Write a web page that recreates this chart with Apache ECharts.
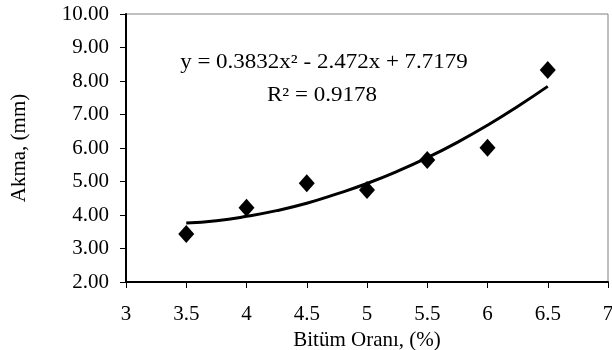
<!DOCTYPE html>
<html>
<head>
    <meta charset="UTF-8">
    <title>Akma - Bitüm Oranı</title>
    <script src="https://cdn.jsdelivr.net/npm/echarts@6/dist/echarts.min.js"></script>
    <style>
        html, body { margin: 0; padding: 0; background: #fff; }
        #chart { width: 612px; height: 350px; }
    </style>
</head>
<body>
    <div id="chart"></div>
    <script>
        // measured points (Bitüm Oranı %, Akma mm)
        var bitumRatio = [3.5, 4, 4.5, 5, 5.5, 6, 6.5];
        var akmaValues = [3.43, 4.22, 4.95, 4.75, 5.64, 6.01, 8.33];

        // trend line
        var trendX = [3.5, 3.75, 4, 4.25, 4.5, 4.75, 5, 5.25, 5.5, 5.75, 6, 6.25, 6.5];
        var trendY = [3.76, 3.83, 3.96, 4.13, 4.35, 4.63, 4.94, 5.30, 5.71, 6.17, 6.68, 7.24, 7.84];

        var xTicks = [3, 3.5, 4, 4.5, 5, 5.5, 6, 6.5, 7];
        var equationText = 'y = 0.3832x² - 2.472x + 7.7179';
        var rSquaredText = 'R² = 0.9178';

        var font = 'Liberation Serif';

        var chart = echarts.init(document.getElementById('chart'));

        var option = {
            animation: false,
            textStyle: { fontFamily: font, color: '#000' },
            grid: {
                left: 126, right: 4, top: 14, bottom: 68,
                outerBoundsMode: 'none',
                containLabel: false,
                show: true, borderColor: '#808080', borderWidth: 1
            },
            xAxis: {
                type: 'value',
                min: 3, max: 7, interval: 0.5,
                name: 'Bitüm Oranı, (%)',
                nameLocation: 'middle',
                nameGap: 37,
                nameTextStyle: { fontFamily: font, fontSize: 21, color: '#000' },
                axisLine: { lineStyle: { color: '#000', width: 2 } },
                axisTick: { show: true, length: 6, lineStyle: { color: '#000', width: 1 } },
                axisLabel: {
                    fontFamily: font, fontSize: 21, color: '#000', margin: 22,
                    formatter: function (v) { return xTicks.indexOf(v) >= 0 ? String(v) : ''; }
                },
                splitLine: { show: false }
            },
            yAxis: {
                type: 'value',
                min: 2, max: 10, interval: 1,
                name: 'Akma, (mm)',
                nameLocation: 'middle',
                nameGap: 96,
                nameTextStyle: { fontFamily: font, fontSize: 21, color: '#000' },
                axisLine: { show: true, lineStyle: { color: '#000', width: 2 } },
                axisTick: { show: true, length: 6, lineStyle: { color: '#000', width: 1 } },
                axisLabel: {
                    fontFamily: font, fontSize: 21, color: '#000', margin: 17,
                    formatter: function (v) { return v.toFixed(2); }
                },
                splitLine: { show: false }
            },
            graphic: [
                {
                    type: 'text', x: 324, y: 63, scaleX: 1.15,
                    style: {
                        text: equationText, x: 0, y: 0,
                        font: '20px "' + font + '"', fill: '#000',
                        textAlign: 'center', textVerticalAlign: 'middle'
                    }
                },
                {
                    type: 'text', x: 322, y: 96, scaleX: 1.15,
                    style: {
                        text: rSquaredText, x: 0, y: 0,
                        font: '20px "' + font + '"', fill: '#000',
                        textAlign: 'center', textVerticalAlign: 'middle'
                    }
                }
            ],
            series: [
                {
                    type: 'line',
                    data: trendX.map(function (x, i) { return [x, trendY[i]]; }),
                    smooth: true,
                    showSymbol: false,
                    lineStyle: { color: '#000', width: 3 },
                    z: 2
                },
                {
                    type: 'scatter',
                    data: bitumRatio.map(function (x, i) { return [x, akmaValues[i]]; }),
                    symbol: 'diamond',
                    symbolSize: [16, 18],
                    itemStyle: { color: '#000', opacity: 1 },
                    z: 3
                }
            ]
        };

        chart.setOption(option);
    </script>
</body>
</html>
